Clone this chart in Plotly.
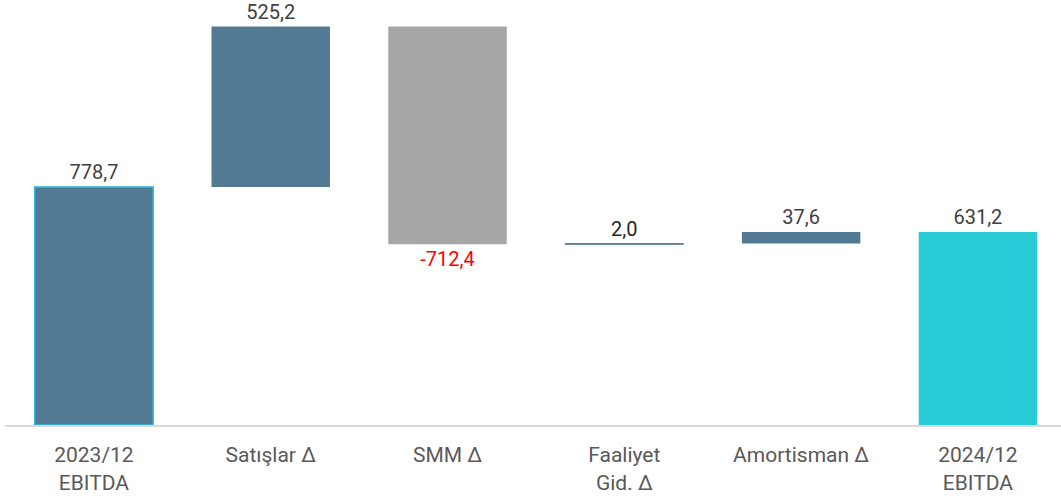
import plotly.graph_objects as go

categories = ["2023/12<br>EBITDA", "Satışlar Δ", "SMM Δ", "Faaliyet<br>Gid. Δ", "Amortisman Δ", "2024/12<br>EBITDA"]
values = [778.7, 525.2, -712.4, 2.0, 37.6, 631.2]
measures = ["total", "relative", "relative", "relative", "relative", "total"]
labels = ["778,7", "525,2", "-712,4", "2,0", "37,6", "631,2"]

colors = ["#527a94", "#527a94", "#a6a6a6", "#527a94", "#527a94", "#29ccd6"]
line_colors = ["#2bb7df", "#527a94", "#a6a6a6", "#527a94", "#527a94", "#29ccd6"]
line_widths = [1.5, 0, 0, 1, 0, 0]
text_colors = ["#404040", "#404040", "#ff0000", "#262626", "#404040", "#404040"]

bases, heights = [], []
running = 0.0
for v, m in zip(values, measures):
    if m == "total":
        bases.append(0.0)
        heights.append(v)
        running = v
    else:
        bases.append(running)
        heights.append(v)
        running += v

FONT = "Roboto, Liberation Sans, sans-serif"

fig = go.Figure(go.Bar(
    x=list(range(len(categories))),
    y=heights,
    base=bases,
    width=0.67,
    marker=dict(color=colors, line=dict(color=line_colors, width=line_widths)),
    text=labels,
    textposition="outside",
    textfont=dict(family=FONT, size=20, color=text_colors),
    cliponaxis=False,
))

fig.update_layout(
    width=1061, height=501,
    margin=dict(l=5, r=0, t=0, b=76),
    plot_bgcolor="white", paper_bgcolor="white",
    showlegend=False,
    xaxis=dict(
        range=[-0.503, 5.47],
        tickmode="array",
        tickvals=list(range(len(categories))),
        ticktext=categories,
        tickfont=dict(family=FONT, size=21, color="#595959"),
        showline=True, linecolor="#d9d9d9", linewidth=2,
        ticks="outside", ticklen=10, tickcolor="rgba(0,0,0,0)",
        showgrid=False, zeroline=False, automargin=False,
    ),
    yaxis=dict(range=[0, 1390.6], visible=False, showgrid=False, zeroline=False),
)

fig.write_html(
    "out.html",
    config={"displayModeBar": False},
    post_script="document.body.style.margin='0';document.body.style.padding='0';",
)
